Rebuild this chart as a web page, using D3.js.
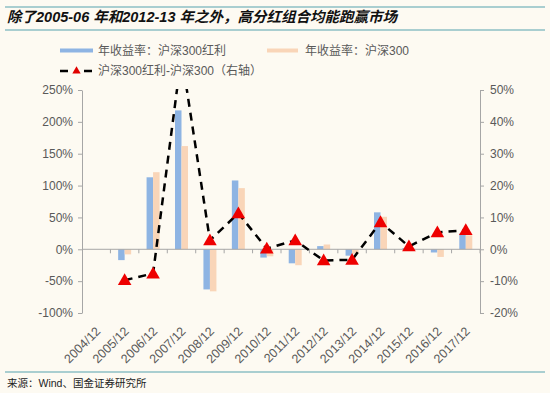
<!DOCTYPE html>
<html>
<head>
<meta charset="utf-8">
<script src="https://cdn.jsdelivr.net/npm/d3@7"></script>
<style>
  body { margin: 0; background: #fdfaf2; }
  svg { display: block; }
</style>
</head>
<body>
<svg id="chart" width="550" height="393"></svg>
<script>
// categories (year ends)
var years = ['2004/12','2005/12','2006/12','2007/12','2008/12','2009/12','2010/12',
             '2011/12','2012/12','2013/12','2014/12','2015/12','2016/12','2017/12'];
// annual return, HS300 dividend (%)
var divReturn = [null, -17, 113, 218, -63, 108, -13, -22, 5, -10, 58, 2, -5, 25];
// annual return, HS300 (%)
var hsReturn = [null, -8, 121, 162, -66, 96, -11, -25, 7.5, -7, 51, 1, -12, 22];
// difference, right axis (%)
var diff = [null, -9.7, -7.6, 61, 2.8, 11.3, 0.2, 2.8, -3.5, -3.3, 8.5, 0.9, 5.3, 6];

var leftTicks = [-100, -50, 0, 50, 100, 150, 200, 250];
var rightTicks = [-20, -10, 0, 10, 20, 30, 40, 50];

var seriesNames = ['年收益率：沪深300红利', '年收益率：沪深300', '沪深300红利-沪深300（右轴）'];
var blue = '#8eb4e3', peach = '#f9d5b8', gray = '#a6a6a6', txt = '#595959';

var svg = d3.select('#chart');
// plot area (named so as not to clash with window.top)
var plotL = 82, plotR = 480, plotT = 90, plotB = 313;

var x = d3.scaleBand().domain(years).range([plotL, plotR]).padding(0);
var yL = d3.scaleLinear().domain([-100, 250]).range([plotB, plotT]);
var yR = d3.scaleLinear().domain([-20, 50]).range([plotB, plotT]);
var inner = d3.scaleBand().domain([0, 1]).range([0, 13]);
var barOff = x.bandwidth() / 2 - 6.5;

// header lines and title
svg.append('line').attr('x1', 5).attr('x2', 545).attr('y1', 7).attr('y2', 7)
  .attr('stroke', '#8dbfc4').attr('stroke-width', 1.5);
svg.append('line').attr('x1', 5).attr('x2', 545).attr('y1', 30).attr('y2', 30)
  .attr('stroke', '#8dbfc4').attr('stroke-width', 1.5);
svg.append('text').attr('x', 7).attr('y', 22)
  .attr('font-family', '"Liberation Sans", "Noto Sans CJK SC", sans-serif')
  .attr('font-size', 14.5).attr('font-weight', 'bold').attr('font-style', 'italic')
  .attr('fill', '#111')
  .text('除了2005-06 年和2012-13 年之外，高分红组合均能跑赢市场');

// footer
svg.append('line').attr('x1', 5).attr('x2', 545).attr('y1', 372).attr('y2', 372)
  .attr('stroke', '#8dbfc4').attr('stroke-width', 1.5);
svg.append('text').attr('x', 7).attr('y', 387)
  .attr('font-family', '"Liberation Sans", "Noto Sans CJK SC", sans-serif')
  .attr('font-size', 10.5).attr('fill', '#222')
  .text('来源：Wind、国金证券研究所');

// legend
var lg = svg.append('g').attr('font-family', '"Liberation Sans", "Noto Sans CJK SC", sans-serif')
  .attr('font-size', 12).attr('fill', txt);
lg.append('rect').attr('x', 60).attr('y', 48.5).attr('width', 33).attr('height', 4).attr('fill', blue);
lg.append('text').attr('x', 98).attr('y', 55).text(seriesNames[0]);
lg.append('rect').attr('x', 267).attr('y', 48.5).attr('width', 31).attr('height', 4).attr('fill', peach);
lg.append('text').attr('x', 305).attr('y', 55).text(seriesNames[1]);
lg.append('line').attr('x1', 60).attr('x2', 93).attr('y1', 71).attr('y2', 71)
  .attr('stroke', '#000').attr('stroke-width', 2.5).attr('stroke-dasharray', '8,16');
lg.append('path').attr('d', d3.symbol(d3.symbolTriangle, 30)())
  .attr('transform', 'translate(76.5,71)').attr('fill', '#e00000');
lg.append('text').attr('x', 98).attr('y', 75).text(seriesNames[2]);

// bars
var bars = svg.append('g');
years.forEach(function(y, i) {
  [divReturn[i], hsReturn[i]].forEach(function(v, k) {
    if (v == null) return;
    bars.append('rect')
      .attr('x', x(y) + barOff + inner(k))
      .attr('width', inner.bandwidth())
      .attr('y', yL(Math.max(0, v)))
      .attr('height', Math.abs(yL(v) - yL(0)))
      .attr('fill', k == 0 ? blue : peach);
  });
});

// axes
function styleAxis(g) {
  g.selectAll('.domain').attr('stroke', gray);
  g.selectAll('.tick line').attr('stroke', gray);
  g.selectAll('text').attr('fill', txt).attr('font-size', 12)
    .attr('font-family', '"Liberation Sans", Arial, sans-serif');
}
svg.append('g').attr('transform', 'translate(' + plotL + ',0)')
  .call(d3.axisLeft(yL).tickValues(leftTicks).tickSize(4).tickSizeOuter(0)
    .tickFormat(function(d) { return d + '%'; }).tickPadding(5))
  .call(styleAxis);
svg.append('g').attr('transform', 'translate(' + plotR + ',0)')
  .call(d3.axisRight(yR).tickValues(rightTicks).tickSize(4).tickSizeOuter(0)
    .tickFormat(function(d) { return d + '%'; }).tickPadding(6))
  .call(styleAxis);

// category axis on the zero line, ticks at band boundaries
var xa = svg.append('g');
xa.append('line').attr('x1', plotL).attr('x2', plotR).attr('y1', yL(0)).attr('y2', yL(0))
  .attr('stroke', gray);
years.forEach(function(y, i) {
  xa.append('line').attr('x1', x(y) + x.bandwidth()).attr('x2', x(y) + x.bandwidth())
    .attr('y1', yL(0)).attr('y2', yL(0) + 4).attr('stroke', gray);
  xa.append('text')
    .attr('transform', 'translate(' + (x(y) + x.bandwidth() / 2 + 5) + ',' + (plotB + 19) + ') rotate(-45)')
    .attr('text-anchor', 'end')
    .attr('font-family', '"Liberation Sans", Arial, sans-serif')
    .attr('font-size', 12.5).attr('fill', txt)
    .text(y);
});

// difference line on the right axis
svg.append('clipPath').attr('id', 'clip').append('rect')
  .attr('x', plotL).attr('y', plotT - 1).attr('width', plotR - plotL).attr('height', plotB - plotT + 20);
var pts = years.map(function(y, i) { return { y: y, v: diff[i] }; })
  .filter(function(d) { return d.v != null; });
var line = d3.line()
  .x(function(d) { return x(d.y) + x.bandwidth() / 2; })
  .y(function(d) { return yR(d.v); });
var lineG = svg.append('g').attr('clip-path', 'url(#clip)');
lineG.append('path').datum(pts).attr('d', line)
  .attr('fill', 'none').attr('stroke', '#000').attr('stroke-width', 2.5)
  .attr('stroke-dasharray', '8,6');
lineG.selectAll('.mk').data(pts).enter().append('path')
  .attr('d', d3.symbol(d3.symbolTriangle, 80)())
  .attr('transform', function(d) {
    return 'translate(' + (x(d.y) + x.bandwidth() / 2) + ',' + (yR(d.v) + 1) + ')';
  })
  .attr('fill', '#ee0000');
</script>
</body>
</html>
